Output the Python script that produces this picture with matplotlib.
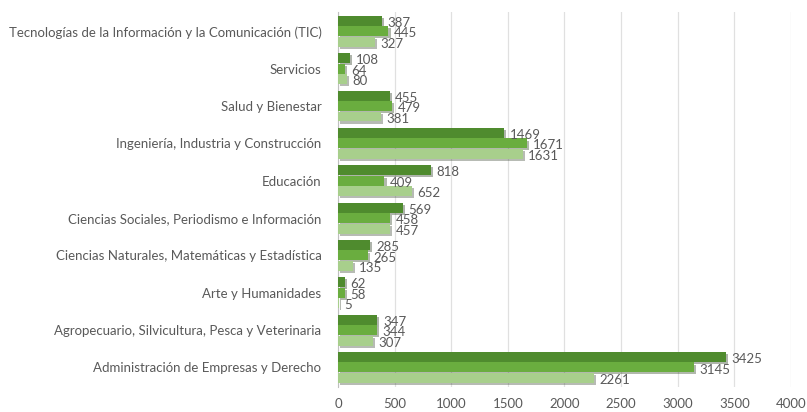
import numpy as np
import matplotlib
matplotlib.use("Agg")
from matplotlib import pyplot as plt
from matplotlib import patheffects as pe

categories = [
    "Administración de Empresas y Derecho",
    "Agropecuario, Silvicultura, Pesca y Veterinaria",
    "Arte y Humanidades",
    "Ciencias Naturales, Matemáticas y Estadística",
    "Ciencias Sociales, Periodismo e Información",
    "Educación",
    "Ingeniería, Industria y Construcción",
    "Salud y Bienestar",
    "Servicios",
    "Tecnologías de la Información y la Comunicación (TIC)",
]
serie_a = [3425, 347, 62, 285, 569, 818, 1469, 455, 108, 387]
serie_b = [3145, 344, 58, 265, 458, 409, 1671, 479, 64, 445]
serie_c = [2261, 307, 5, 135, 457, 652, 1631, 381, 80, 327]

colors = ["#4f8b2e", "#6aad3f", "#a8cf8c"]
text_color = "#595959"

plt.rcParams["font.family"] = ["Lato", "DejaVu Sans"]

fig = plt.figure(figsize=(8.07, 4.12), dpi=100)
ax = fig.add_axes([0.419, 0.061, 0.561, 0.910])

y = np.arange(len(categories))
h = 0.28
shadow = [pe.SimplePatchShadow(offset=(1.5, -1.5), alpha=0.35), pe.Normal()]
for vals, off, col in zip([serie_a, serie_b, serie_c], [h, 0, -h], colors):
    bars = ax.barh(y + off, vals, height=h * 0.95, color=col, zorder=3)
    for b in bars:
        b.set_path_effects(shadow)
    for yy, v in zip(y + off, vals):
        ax.annotate(str(v), (v, yy), xytext=(4, -1.5), textcoords="offset points",
                    va="center", ha="left", fontsize=9.5, color=text_color, zorder=4)

ax.set_xlim(0, 4000)
ax.set_ylim(-0.52, 9.52)
ax.set_xticks(np.arange(0, 4001, 500))
ax.set_yticks(y)
ax.set_yticklabels(categories)
ax.tick_params(axis="both", length=0, labelsize=9.5, colors=text_color)
ax.tick_params(axis="y", pad=12)
ax.tick_params(axis="x", pad=8)
ax.grid(axis="x", color="#e0e0e0", linewidth=0.9, zorder=0)
for s in ["top", "right", "bottom"]:
    ax.spines[s].set_visible(False)
ax.spines["left"].set_color("#bfbfbf")

fig.savefig("out.png", dpi=100)
plt.close(fig)
